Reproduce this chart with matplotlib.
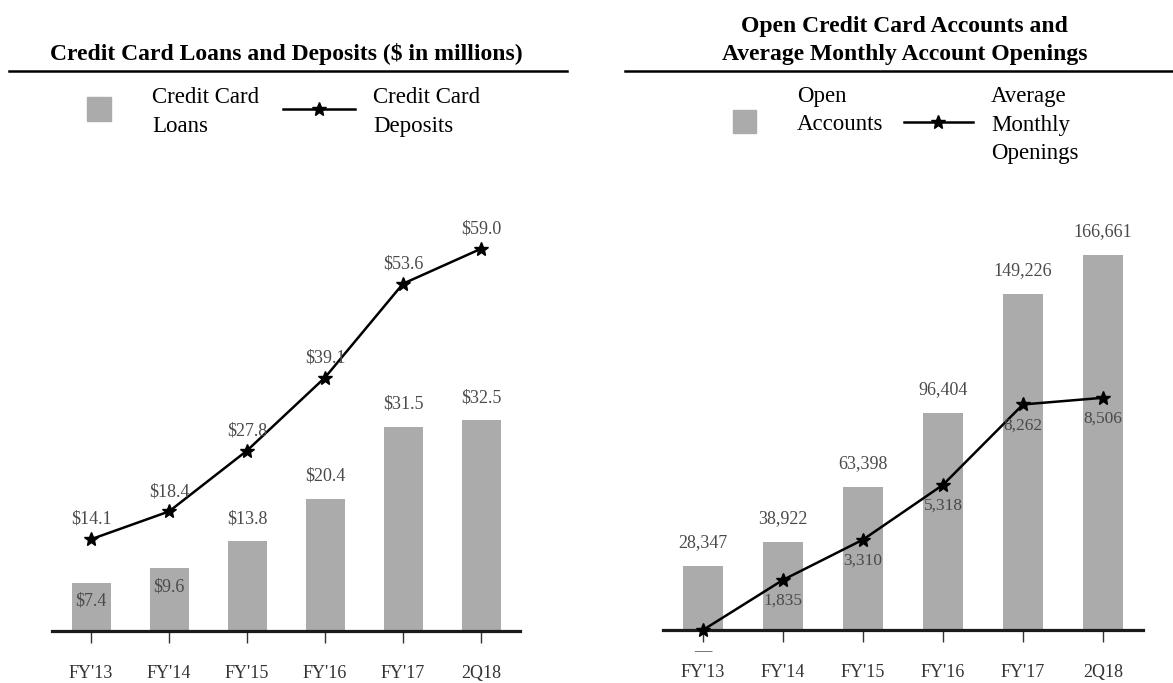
import matplotlib
matplotlib.use('Agg')
import matplotlib.pyplot as plt
from matplotlib.patches import Rectangle
from matplotlib.lines import Line2D

plt.rcParams['font.family'] = ['Liberation Serif', 'DejaVu Serif']

# data
periods = ["FY'13", "FY'14", "FY'15", "FY'16", "FY'17", "2Q18"]
loans = [7.4, 9.6, 13.8, 20.4, 31.5, 32.5]
deposits = [14.1, 18.4, 27.8, 39.1, 53.6, 59.0]
open_accounts = [28347, 38922, 63398, 96404, 149226, 166661]
monthly_openings = [0, 1835, 3310, 5318, 8262, 8506]

BAR = '#ababab'
LABEL = '#4a4a4a'
W, H = 1173, 683


def fx(x):
    return x / W


def fy(y):
    return 1 - y / H


def stacked_text(fig, x, y0, text, step, **kw):
    for i, line in enumerate(text.split('\n')):
        fig.text(fx(x), fy(y0 + i * step), line, va='baseline', **kw)


def style_axis(ax):
    for s in ['top', 'left', 'right']:
        ax.spines[s].set_visible(False)
    ax.spines['bottom'].set_linewidth(2.3)
    ax.spines['bottom'].set_color('#1a1a1a')
    ax.set_yticks([])
    ax.set_xlim(-0.5, 5.5)
    ax.set_xticks(range(len(periods)))
    ax.set_xticklabels(periods, fontsize=13, color='#333333')
    ax.tick_params(axis='x', direction='out', length=8.5, width=1.0,
                   color='#333333', pad=16)


fig = plt.figure(figsize=(W / 100, H / 100), dpi=100)
x = list(range(len(periods)))

# ---- left chart: loans and deposits
ax1 = fig.add_axes([fx(52), fy(630.5), (520 - 52) / W, (630.5 - 200) / H])
style_axis(ax1)
ax1.set_ylim(0, 430.5 / 6.47)
ax1.bar(x, loans, width=0.5, color=BAR, zorder=2)
ax1.plot(x, deposits, color='black', lw=1.8, marker='*', ms=10, zorder=3)
for i, v in enumerate(loans):
    if v < 10:
        ax1.annotate(f'${v:.1f}', (i, v), xytext=(0, -16.5), textcoords='offset points',
                     ha='center', va='baseline', fontsize=13, color=LABEL, zorder=4)
    else:
        ax1.annotate(f'${v:.1f}', (i, v), xytext=(0, 13), textcoords='offset points',
                     ha='center', va='baseline', fontsize=13, color=LABEL)
for i, v in enumerate(deposits):
    ax1.annotate(f'${v:.1f}', (i, v), xytext=(0, 11), textcoords='offset points',
                 ha='center', va='baseline', fontsize=13, color=LABEL)

# ---- right chart: accounts and openings
ax2 = fig.add_axes([fx(663), fy(630), (1143 - 663) / W, (630 - 200) / H])
style_axis(ax2)
ax2.set_ylim(0, 430 / 0.00225)
ax2.bar(x, open_accounts, width=0.5, color=BAR, zorder=2)
for i, v in enumerate(open_accounts):
    ax2.annotate(f'{v:,}', (i, v), xytext=(0, 13.7), textcoords='offset points',
                 ha='center', va='baseline', fontsize=13, color=LABEL)
ax3 = ax2.twinx()
ax3.set_ylim(0, 430 / 0.0273)
ax3.axis('off')
ax3.plot(x, monthly_openings, color='black', lw=1.8, marker='*', ms=10, clip_on=False)
for i, v in enumerate(monthly_openings):
    ax3.annotate(f'{v:,}' if v else '\u2014', (i, v), xytext=(0, -17.8),
                 textcoords='offset points', ha='center', va='baseline',
                 fontsize=12.5, color=LABEL)

# ---- headers
fig.text(fx(286.5), fy(60), 'Credit Card Loans and Deposits ($ in millions)',
         ha='center', va='baseline', fontsize=17, fontweight='bold')
stacked_text(fig, 904.5, 32, 'Open Credit Card Accounts and\nAverage Monthly Account Openings',
             28, ha='center', fontsize=17, fontweight='bold')
fig.add_artist(Line2D([fx(9), fx(567)], [fy(71), fy(71)], color='black', lw=1.8))
fig.add_artist(Line2D([fx(625), fx(1173)], [fy(71), fy(71)], color='black', lw=1.8))

# ---- legends
fig.add_artist(Rectangle((fx(87), fy(121)), 24 / W, 24 / H, color=BAR))
stacked_text(fig, 152, 103, 'Credit Card\nLoans', 29, fontsize=16.5)
fig.add_artist(Line2D([fx(283), fx(355)], [fy(109), fy(109)], color='black', lw=1.8))
fig.add_artist(Line2D([fx(319)], [fy(109)], color='black', marker='*', ms=10))
stacked_text(fig, 373, 103, 'Credit Card\nDeposits', 29, fontsize=16.5)

fig.add_artist(Rectangle((fx(733), fy(133)), 23 / W, 23 / H, color=BAR))
stacked_text(fig, 797, 102, 'Open\nAccounts', 28.5, fontsize=16.5)
fig.add_artist(Line2D([fx(904), fx(973)], [fy(122), fy(122)], color='black', lw=1.8))
fig.add_artist(Line2D([fx(938)], [fy(122)], color='black', marker='*', ms=10))
stacked_text(fig, 991, 102, 'Average\nMonthly\nOpenings', 28.5, fontsize=16.5)

fig.savefig('out.png', dpi=100)
